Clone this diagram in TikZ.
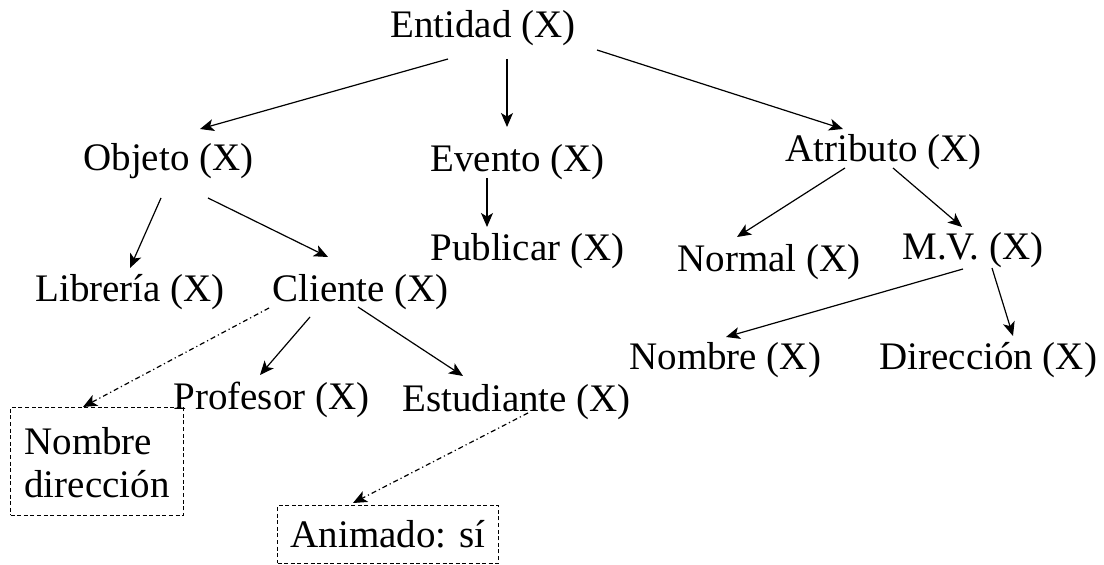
\documentclass[tikz,border=0pt]{standalone}
\usepackage{fontspec}
\setmainfont{Liberation Serif}
\usetikzlibrary{arrows.meta,calc}
\newcommand\diafont{\fontsize{19.5}{21.5}\selectfont}
\begin{document}
\begin{tikzpicture}[x=0.5pt,y=-0.5pt,
  txt/.style={inner sep=0pt, anchor=base west, font=\diafont},
  arr/.style={line width=0.6pt, -{Stealth[length=7pt,width=6pt,inset=1.8pt]}},
  darr/.style={arr, dash pattern=on 2.5pt off 1.5pt on 0.6pt off 1.5pt},
  boxnode/.style={draw, dash pattern=on 2pt off 1.3pt, line width=0.5pt, inner sep=0pt,
    align=left, font=\diafont, anchor=north west}]
\useasboundingbox (0,0) rectangle (1104,565);
\node[txt] (ent) at (390,38) {Entidad (X)};
\node[txt] (obj) at (83,171) {Objeto (X)};
\node[txt] (evt) at (430,172) {Evento (X)};
\node[txt] (atr) at (785,162) {Atributo (X)};
\node[txt] (pub) at (430,261) {Publicar (X)};
\node[txt] (nor) at (677,272) {Normal (X)};
\node[txt] (mv) at (902,260) {M.V. (X)};
\node[txt] (lib) at (35,302) {Librería (X)};
\node[txt] (cli) at (272,302) {Cliente (X)};
\node[txt] (nom) at (629,370) {Nombre (X)};
\node[txt] (dir) at (879,370) {Dirección (X)};
\node[txt] (pro) at (173,410) {Profesor (X)};
\node[txt] (est) at (402,412) {Estudiante (X)};
\node[boxnode, minimum width=86.5pt, minimum height=54pt] (box1) at (10,407) {\rule{0pt}{14.5pt}Nombre\\dirección};
\node[boxnode, minimum width=110.5pt, minimum height=29pt] (box2) at (277,505) {Animado: sí};
\draw[arr] ($(ent.base west)+(58,21)$) -- ($(obj.base west)+(117,-42)$);
\draw[arr] ($(ent.base west)+(117,21)$) -- ($(evt.base west)+(77,-45)$);
\draw[arr] ($(ent.base west)+(207,12)$) -- ($(atr.base west)+(58,-33)$);
\draw[arr] ($(obj.base west)+(78,27)$) -- ($(lib.base west)+(95,-34)$);
\draw[arr] ($(obj.base west)+(125,27)$) -- ($(cli.base west)+(56,-45)$);
\draw[arr] ($(evt.base west)+(57,6)$) -- ($(pub.base west)+(57,-34)$);
\draw[arr] ($(atr.base west)+(60,6)$) -- ($(nor.base west)+(60,-35)$);
\draw[arr] ($(atr.base west)+(108,6)$) -- ($(mv.base west)+(60,-33)$);
\draw[arr] ($(mv.base west)+(61,9)$) -- ($(nom.base west)+(97,-33)$);
\draw[arr] ($(mv.base west)+(90,8)$) -- ($(dir.base west)+(134,-34)$);
\draw[arr] ($(cli.base west)+(38,15)$) -- ($(pro.base west)+(87,-35)$);
\draw[arr] ($(cli.base west)+(86,5)$) -- ($(est.base west)+(61,-36)$);
\draw[darr] ($(cli.base west)+(-3,6)$) -- ($(box1.north west)+(73,0)$);
\draw[darr] ($(est.base west)+(126,1)$) -- ($(box2.north west)+(76,-2)$);
\end{tikzpicture}
\end{document}
